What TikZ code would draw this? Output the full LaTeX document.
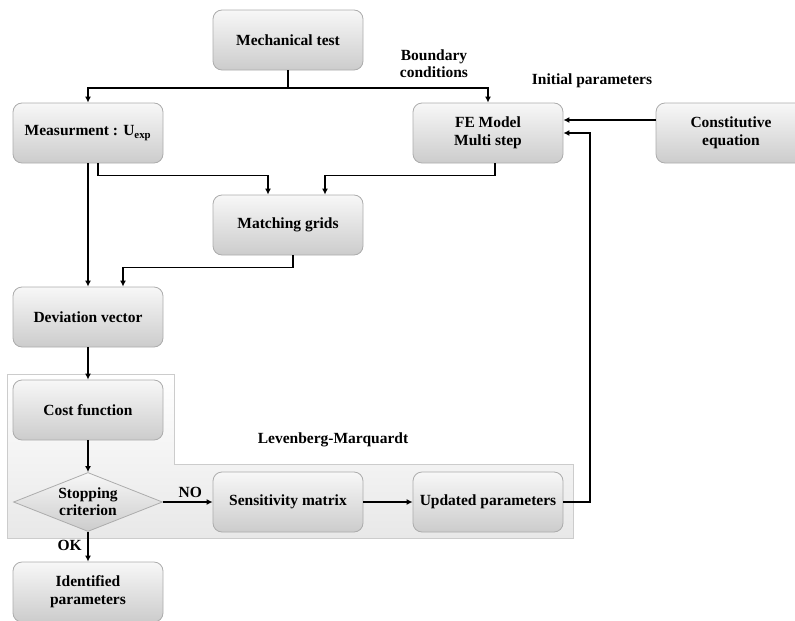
\documentclass[tikz,border=0pt]{standalone}
\usepackage{fontspec}
\setmainfont{Liberation Serif}
\usetikzlibrary{arrows.meta,shapes.geometric}

\begin{document}
\begin{tikzpicture}[x=1pt,y=-1pt,
  box/.style={draw=gray!65, line width=0.8pt, rounded corners=9pt,
    top color=gray!6, bottom color=gray!40,
    minimum width=150pt, minimum height=60pt, align=center,
    font=\fontsize{15.5}{18}\selectfont\bfseries},
  crit/.style={diamond, draw=gray!65, line width=0.8pt,
    top color=gray!6, bottom color=gray!40, aspect=2.5,
    minimum width=149pt, minimum height=59pt, inner sep=0pt, align=center,
    font=\fontsize{15.5}{17}\selectfont\bfseries},
  lbl/.style={align=center, font=\fontsize{15.5}{17}\selectfont\bfseries},
  link/.style={line width=1.8pt, -{Latex[length=6pt,width=6pt]}}]

\def\width{795}
\def\height{621}

\path [use as bounding box] (0,0) rectangle (\width,\height);

% PANEL
\path [draw=gray!40, line width=0.8pt, top color=white, bottom color=gray!18]
  (7,374) -- (174,374) -- (174,464) -- (573,464) -- (573,538) -- (7,538) -- cycle;

% BOXES
\node [box] (mech)  at (288,40)  {Mechanical test};
\node [box] (meas)  at (88,133)  {Measurment : U\textsubscript{exp}};
\node [box] (fe)    at (488,133) {FE Model\\Multi step};
\node [box] (const) at (731,133) {Constitutive\\equation};
\node [box] (match) at (288,225) {Matching grids};
\node [box] (dev)   at (88,317)  {Deviation vector};
\node [box] (cost)  at (88,410)  {Cost function};
\node [crit] (stop) at (88,502)  {Stopping\\criterion};
\node [box] (sens)  at (288,502) {Sensitivity matrix};
\node [box] (upd)   at (488,502) {Updated parameters};
\node [box] (ident) at (88,592)  {Identified\\parameters};

% LABELS
\node [lbl] (bcond) at (434,64)  {Boundary\\conditions};
\node [lbl] (init)  at (592,81)  {Initial parameters};
\node [lbl] (lm)    at (333,440) {Levenberg-Marquardt};

% LINKS
\coordinate (split) at (288,88);
\coordinate (ret)   at (590,502);
\draw [line width=1.8pt] (mech) -- (split);
\draw [link] (split) -| (meas);
\draw [link] (split) -| (fe);
\draw [link] ([xshift=10pt]meas.south) -- ++(0,12) -| ([xshift=-20pt]match.north);
\draw [link] ([xshift=7pt]fe.south) -- ++(0,12) -| ([xshift=37pt]match.north);
\draw [link] (meas) -- (dev);
\draw [link] ([xshift=5pt]match.south) -- ++(0,12) -| ([xshift=35pt]dev.north);
\draw [link] (dev) -- (cost);
\draw [link] (cost) -- (stop);
\draw [link] (stop) -- node [lbl, left, pos=0.45, xshift=-2pt] {OK} (ident);
\draw [link] (stop) -- node [lbl, above, pos=0.55] {NO} (sens);
\draw [link] (sens) -- (upd);
\draw [link] (upd) -- (ret) |- (fe);
\draw [link] ([yshift=13pt]const.west) -- ([yshift=13pt]fe.east);

\end{tikzpicture}
\end{document}
